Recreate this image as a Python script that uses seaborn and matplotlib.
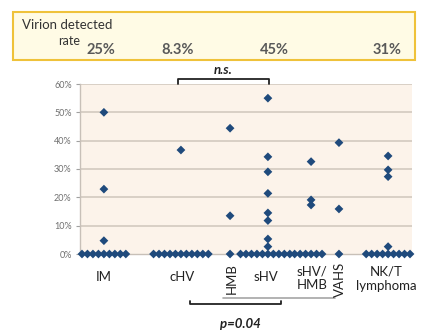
import matplotlib
matplotlib.use("Agg")
import matplotlib.pyplot as plt
from matplotlib.patches import Rectangle
from matplotlib.ticker import PercentFormatter
import pandas as pd
import seaborn as sns
import numpy as np

# groups and their centre on the x axis (axis runs 0..10)
groups = ["IM", "cHV", "HMB", "sHV", "sHV/HMB", "VAHS", "NK/T"]
centers = [0.72, 3.04, 4.52, 5.66, 6.96, 7.80, 9.28]

# virion detected (%) - positive cases
im_pos = [50.0, 22.9, 4.7]
chv_pos = [36.7]
hmb_pos = [44.4, 13.5]
shv_pos = [55.0, 34.3, 29.0, 21.4, 14.5, 11.8, 5.3, 2.6]
shvhmb_pos = [32.6, 19.1, 17.3]
vahs_pos = [39.3, 15.9]
nkt_pos = [34.6, 29.7, 27.3, 2.6]
positives = [im_pos, chv_pos, hmb_pos, shv_pos, shvhmb_pos, vahs_pos, nkt_pos]

# number of cases with 0%
zero_counts = [9, 11, 1, 10, 6, 1, 9]

rate_labels = ["25%", "8.3%", "45%", "31%"]
rate_x_px = [101, 178, 274, 387]

dot_gap = 0.165
rows = []
for g, c, pos, nz in zip(groups, centers, positives, zero_counts):
    for v in pos:
        rows.append({"group": g, "x": c, "value": v})
    # zeros spread out side by side along the baseline
    for i in range(nz):
        rows.append({"group": g, "x": c + (i - nz // 2) * dot_gap, "value": 0.0})
df = pd.DataFrame(rows)

sns.set_style("white")
plt.rcParams["font.family"] = ["Lato", "DejaVu Sans"]

fig = plt.figure(figsize=(4.22, 3.33), dpi=100)
W, H = 422, 333
ax = fig.add_axes([80 / W, 1 - 254 / H, 332 / W, 170 / H])

ax.set_facecolor("#fcf3ea")
sns.scatterplot(data=df, x="x", y="value", marker="D", s=20, color="#1f4a7c",
                edgecolor="none", ax=ax, clip_on=False, zorder=3, legend=False)

ax.set_xlim(0, 10)
ax.set_ylim(0, 60)
ax.set_yticks(np.arange(0, 61, 10))
ax.yaxis.set_major_formatter(PercentFormatter(decimals=0))
ax.set_xticks([])
ax.set_xlabel("")
ax.set_ylabel("")
ax.tick_params(axis="y", labelsize=6.5, colors="#a0a0a0", length=3, width=0.8, left=True, pad=3)
for t in ax.get_yticklabels():
    t.set_color("#707070")
for y in range(10, 61, 10):
    ax.axhline(y, color="#d9d0c6", lw=1.4, zorder=1)
for s in ["top", "right"]:
    ax.spines[s].set_visible(False)
for s in ["left", "bottom"]:
    ax.spines[s].set_color("#c8c0b8")
    ax.spines[s].set_linewidth(1.0)

# px -> data helpers
def dx(px):
    return (px - 80) / 33.2

def dy(py):
    return (254 - py) / (170 / 60)

# category labels
lab = dict(ha="center", va="center", fontsize=9.5, color="#222222", clip_on=False)
ax.text(dx(104), dy(277), "IM", **lab)
ax.text(dx(182), dy(277), "cHV", **lab)
ax.text(dx(232), dy(279), "HMB", rotation=90, **lab)
ax.text(dx(266), dy(277), "sHV", **lab)
ax.text(dx(312), dy(278), "sHV/\nHMB", linespacing=1.2, **lab)
ax.text(dx(340), dy(279), "VAHS", rotation=90, **lab)
ax.text(dx(386), dy(279), "NK/T\nlymphoma", linespacing=1.2, **lab)

# gray line under the grouped categories
ax.plot([dx(223), dx(335)], [dy(297.5), dy(297.5)], color="#a6a6a6", lw=1.2, clip_on=False)

# p=0.04 bracket
ax.plot([dx(190), dx(190), dx(281), dx(281)], [dy(300.5), dy(304), dy(304), dy(300.5)],
        color="#222222", lw=1.3, clip_on=False)
ax.text(dx(240), dy(324), "p=0.04", ha="center", va="center", fontsize=9.5,
        fontweight="bold", fontstyle="italic", color="#222222", clip_on=False)

# n.s. bracket
ax.plot([dx(178), dx(178), dx(269), dx(269)], [dy(83.5), dy(79), dy(79), dy(83.5)],
        color="#222222", lw=1.3, clip_on=False)
ax.text(dx(223), dy(70), "n.s.", ha="center", va="center", fontsize=9.5,
        fontweight="bold", fontstyle="italic", color="#222222", clip_on=False)

# top box with virion detected rate
fig.add_artist(Rectangle((13 / W, 1 - 60 / H), 402 / W, 48 / H, transform=fig.transFigure,
                         facecolor="#fffbe5", edgecolor="#efc23a", lw=1.5))
fig.text(22 / W, 1 - 25 / H, "Virion detected", ha="left", va="center", fontsize=9.5, color="#333333")
fig.text(80 / W, 1 - 41 / H, "rate", ha="right", va="center", fontsize=9, color="#333333")
for lbl, px in zip(rate_labels, rate_x_px):
    fig.text(px / W, 1 - 50 / H, lbl, ha="center", va="center", fontsize=10.5,
             fontweight="bold", color="#595959")

fig.savefig("out.png", dpi=100)
